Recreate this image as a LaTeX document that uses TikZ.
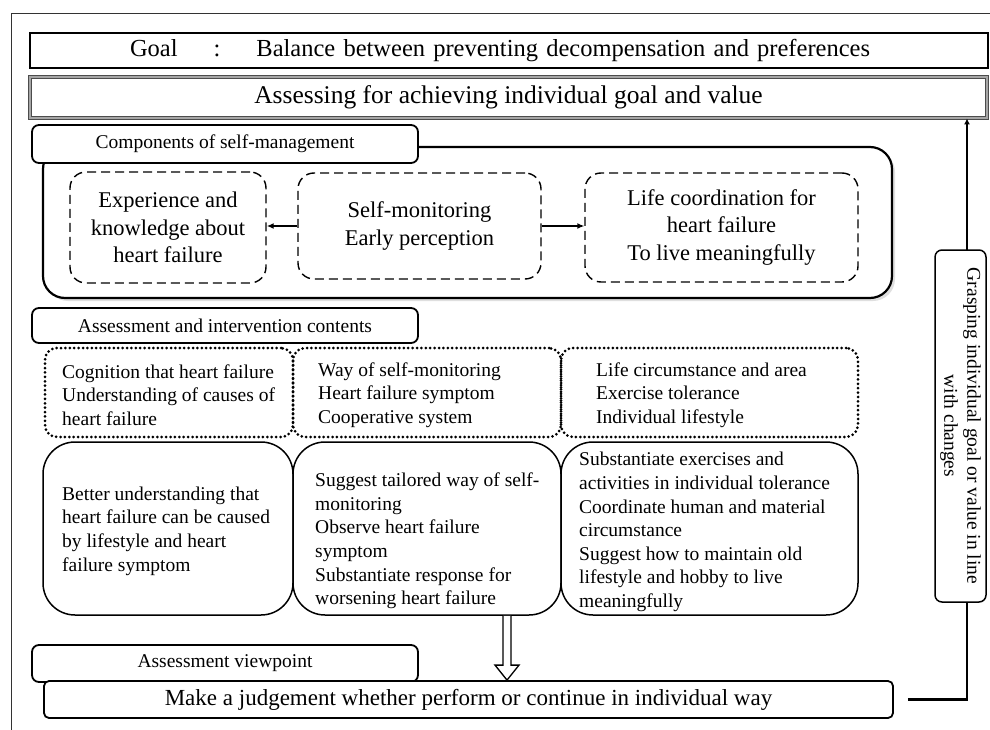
\documentclass[tikz,border=0pt]{standalone}
\usepackage{fontspec}
\setmainfont{Liberation Serif}
\usetikzlibrary{arrows.meta,shadows,calc}

\begin{document}
\begin{tikzpicture}[x=1pt,y=-1pt,
    every node/.style={inner sep=0pt},
    goalbox/.style={draw, line width=2pt, minimum height=35pt,
        font=\fontsize{24.5}{29}\selectfont},
    assessbox/.style={draw=black!70, double=black!35, double distance=1.6pt,
        line width=0.9pt, minimum height=41pt, font=\fontsize{25.5}{30}\selectfont},
    tabbox/.style={draw, fill=white, line width=1.8pt, rounded corners=7pt,
        minimum width=386pt, font=\fontsize{19.5}{23}\selectfont},
    bigbox/.style={draw, fill=white, line width=2.2pt, rounded corners=22pt,
        drop shadow={shadow xshift=3pt, shadow yshift=-3pt, opacity=0.25}},
    dashbox/.style={draw, line width=1.4pt, rounded corners=16pt,
        dash pattern=on 9pt off 5pt, align=center,
        font=\fontsize{22.5}{27.5}\selectfont},
    dotbox/.style={draw, line width=3pt, rounded corners=12pt,
        dash pattern=on 0pt off 4.4pt, line cap=round, minimum height=89pt},
    solidbox/.style={draw, line width=1.5pt, rounded corners=32pt, minimum height=173pt},
    bodytext/.style={anchor=west, align=left, font=\fontsize{19.5}{23.6}\selectfont},
    conn/.style={line width=1.6pt, -{Latex[length=7pt,width=6pt]}},
    loopline/.style={line width=2.2pt, -{Latex[length=6pt,width=6pt]}}]
    \useasboundingbox (0,0) rectangle (990,730);
    % frame
    \draw[line width=0.9pt, black!80] (11,730) -- (11,13) -- (990,13);
    % goal and overall assessment
    \node[goalbox, minimum width=958pt, text width=758pt, align=left] (goal) at (509,50.5)
        {Goal\hspace{36pt}:\hspace{36pt}Balance between preventing decompensation and preferences};
    \node[assessbox, minimum width=957pt] (assess) at (508.5,97.5)
        {Assessing for achieving individual goal and value};
    % components of self-management
    \node[bigbox, minimum width=849pt, minimum height=151pt] (comp) at (467.5,222.5) {};
    \node[tabbox, minimum height=38pt] (comptab) at (225,144) {Components of self-management};
    \node[dashbox, minimum width=196pt, minimum height=111pt] (know) at (168,227.5)
        {Experience and\\knowledge about\\heart failure};
    \node[dashbox, minimum width=243pt, minimum height=106pt] (moni) at (419.5,226)
        {Self-monitoring\\Early perception};
    \node[dashbox, minimum width=273pt, minimum height=109pt] (life) at (721.5,227.5)
        {Life coordination for\\heart failure\\To live meaningfully};
    \draw[conn] (moni.west) -- (moni.west -| know.east);
    \draw[conn] (moni.east) -- (moni.east -| life.west);
    % assessment and intervention contents
    \node[tabbox, minimum height=35pt] (conttab) at (225,325.5) {Assessment and intervention contents};
    \node[dotbox, minimum width=248pt] (cogn) at (169,392.5) {};
    \node[dotbox, minimum width=268pt] (way) at (427,392.5) {};
    \node[dotbox, minimum width=297pt] (circ) at (709.5,392.5) {};
    \node[bodytext] (cogntext) at (62,395)
        {Cognition that heart failure\\Understanding of causes of\\heart failure};
    \node[bodytext] (waytext) at (318,395)
        {Way of self-monitoring\\Heart failure symptom\\Cooperative system};
    \node[bodytext] (circtext) at (596,395)
        {Life circumstance and area\\Exercise tolerance\\Individual lifestyle};
    \node[solidbox, minimum width=250pt] (under) at (168,528.5) {};
    \node[solidbox, minimum width=268pt] (sugg) at (427,528.5) {};
    \node[solidbox, minimum width=297pt] (subst) at (709.5,528.5) {};
    \node[bodytext] (undertext) at (62,531)
        {Better understanding that\\heart failure can be caused\\by lifestyle and heart\\failure symptom};
    \node[bodytext] (suggtext) at (315,541)
        {Suggest tailored way of self-\\monitoring\\Observe heart failure\\symptom\\Substantiate response for\\worsening heart failure};
    \node[bodytext] (substtext) at (579,532)
        {Substantiate exercises and\\activities in individual tolerance\\Coordinate human and material\\circumstance\\Suggest how to maintain old\\lifestyle and hobby to live\\meaningfully};
    % assessment viewpoint
    \node[tabbox, minimum height=37pt] (viewtab) at (225,663.5) {Assessment viewpoint};
    \node[draw, fill=white, line width=1.8pt, rounded corners=5pt, minimum width=849pt,
        minimum height=37pt, font=\fontsize{23}{27}\selectfont] (judge) at (468.5,699.5)
        {Make a judgement whether perform or continue in individual way};
    % hollow arrow down to the judgement
    \coordinate (arrtop) at (sugg.south -| 507,0);
    \coordinate (arrtip) at (judge.north -| arrtop);
    \draw[line width=1.3pt, fill=white] ($(arrtop)+(-4,0)$) -- ($(arrtip)+(-4,-15)$)
        -- ($(arrtip)+(-12,-15)$) -- (arrtip) -- ($(arrtip)+(12,-15)$)
        -- ($(arrtip)+(4,-15)$) -- ($(arrtop)+(4,0)$);
    % feedback loop
    \coordinate (turn) at (967,699.5);
    \draw[loopline, shorten <=14pt] (judge.east) -- (turn) -- (assess.south -| turn);
    \node[draw, fill=white, line width=1.5pt, rounded corners=7pt, rotate=-90,
        minimum width=352pt, minimum height=51pt, align=center,
        font=\fontsize{19.5}{23}\selectfont] (grasp) at (960.5,426)
        {Grasping individual goal or value in line\\with changes};
\end{tikzpicture}
\end{document}
